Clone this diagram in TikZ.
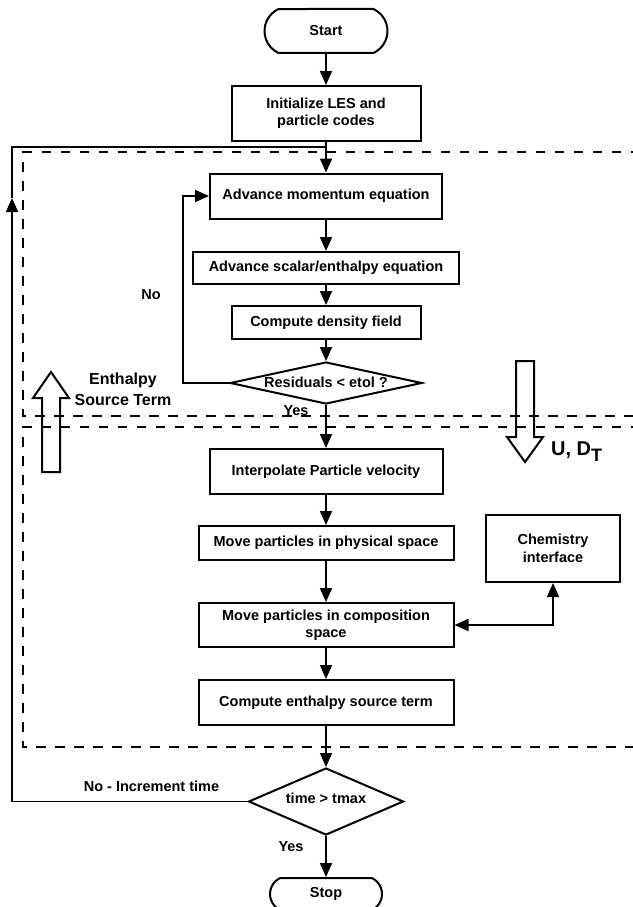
\documentclass[tikz,border=0pt]{standalone}
\usepackage{fontspec}
\setmainfont{Liberation Sans}
\usetikzlibrary{arrows.meta,shapes.geometric,shapes.misc}
\begin{document}
\begin{tikzpicture}[x=1pt,y=-1pt,
  font=\fontsize{14.5}{17.5}\selectfont\bfseries,
  box/.style={draw, line width=2pt, align=center, inner sep=0pt},
  term/.style={draw, line width=2pt, rounded rectangle, rounded rectangle arc length=130, inner sep=0pt},
  dia/.style={draw, line width=2pt, diamond, inner sep=0pt},
  conn/.style={line width=1.8pt},
  arr/.style={line width=1.8pt, -{Triangle[length=14pt,width=12pt]}},
  dbl/.style={line width=1.8pt, {Triangle[length=14pt,width=12pt]}-{Triangle[length=14pt,width=12pt]}},
  dashbox/.style={line width=2pt, dash pattern=on 9.5pt off 9.5pt},
  fat/.style={line width=2pt, line join=miter},
  lbl/.style={inner sep=0pt, align=center}
]
\useasboundingbox (0,0) rectangle (632,907);

% dashed regions
\draw[dashbox] (640,152) -- (23,152) -- (23,416) -- (640,416);
\draw[dashbox] (640,427) -- (23,427) -- (23,747) -- (640,747);

% nodes
\node[term, minimum width=123pt, minimum height=44pt] (start) at (326,31) {Start};
\node[box, minimum width=189pt, minimum height=55pt] (init) at (326,113.5) {Initialize LES and\\particle codes};
\node[box, minimum width=232pt, minimum height=45pt] (adv) at (326,196) {Advance momentum equation};
\node[box, minimum width=266pt, minimum height=32pt] (scal) at (326,268) {Advance scalar/enthalpy equation};
\node[box, minimum width=189pt, minimum height=33pt] (dens) at (326,322.5) {Compute density field};
\node[dia, minimum width=192pt, minimum height=42pt] (res) at (326,383) {};
\node[lbl] (restxt) at (326,382) {Residuals < etol ?};
\node[box, minimum width=233pt, minimum height=45pt] (interp) at (326,471.5) {Interpolate Particle velocity};
\node[box, minimum width=255pt, minimum height=34pt] (phys) at (326,543) {Move particles in physical space};
\node[box, minimum width=255pt, minimum height=44pt] (comp) at (326,625) {Move particles in composition\\space};
\node[box, minimum width=255pt, minimum height=45pt] (enth) at (326,702.5) {Compute enthalpy source term};
\node[box, minimum width=134pt, minimum height=67pt] (chem) at (553,548.5) {Chemistry\\interface};
\node[dia, minimum width=155pt, minimum height=67pt] (tm) at (326,801.5) {};
\node[lbl] (tmtxt) at (326,798) {time > tmax};
\node[term, minimum width=112pt, minimum height=32pt] (stop) at (326,894) {Stop};

% main flow
\draw[arr] (start) -- (init);
\draw[arr] (init) -- (adv);
\draw[arr] (adv) -- (scal);
\draw[arr] (scal) -- (dens);
\draw[arr] (dens) -- (res);
\draw[arr] (res.south) -- (interp);
\draw[arr] (interp) -- (phys);
\draw[arr] (phys) -- (comp);
\draw[arr] (comp) -- (enth);
\draw[arr] (enth) -- (tm.north);
\draw[arr] (tm.south) -- (stop);

% inner loop (No)
\coordinate (nocorner) at (183,383);
\draw[arr] (res.west) -- (nocorner) |- (adv.west);

% chemistry link
\draw[dbl] (comp.east) -| (chem.south);

% outer time loop
\coordinate (fbl) at (12,801.5);
\coordinate (fbtip) at (12,198);
\coordinate (fbt) at (12,147);
\coordinate (fbj) at (326,147);
\draw[arr] (tm.west) -- (fbl) -- (fbtip);
\draw[conn] (fbtip) -- (fbt) -- (fbj);

% labels
\node[lbl] (nolbl) at (151,295) {No};
\node[lbl] (yes1) at (296,411) {Yes};
\node[lbl] (nolbl2) at (151.5,786) {No - Increment time};
\node[lbl] (yes2) at (291,847) {Yes};

% fat arrows
\draw[fat] (42,472) -- (42,398) -- (33,398) -- (51,372) -- (69,398) -- (60,398) -- (60,472) -- cycle;
\node[lbl, font=\fontsize{16}{21}\selectfont\bfseries] (enthlbl) at (123,389.5) {Enthalpy\\Source Term};
\draw[fat] (516,361) -- (516,437) -- (507,437) -- (525,462) -- (543,437) -- (534,437) -- (534,361) -- cycle;
\node[lbl, anchor=west, font=\fontsize{20}{20}\selectfont\bfseries] (udt) at (551,452) {U, D\raisebox{-6pt}{\fontsize{18}{18}\selectfont T}};
\end{tikzpicture}
\end{document}
